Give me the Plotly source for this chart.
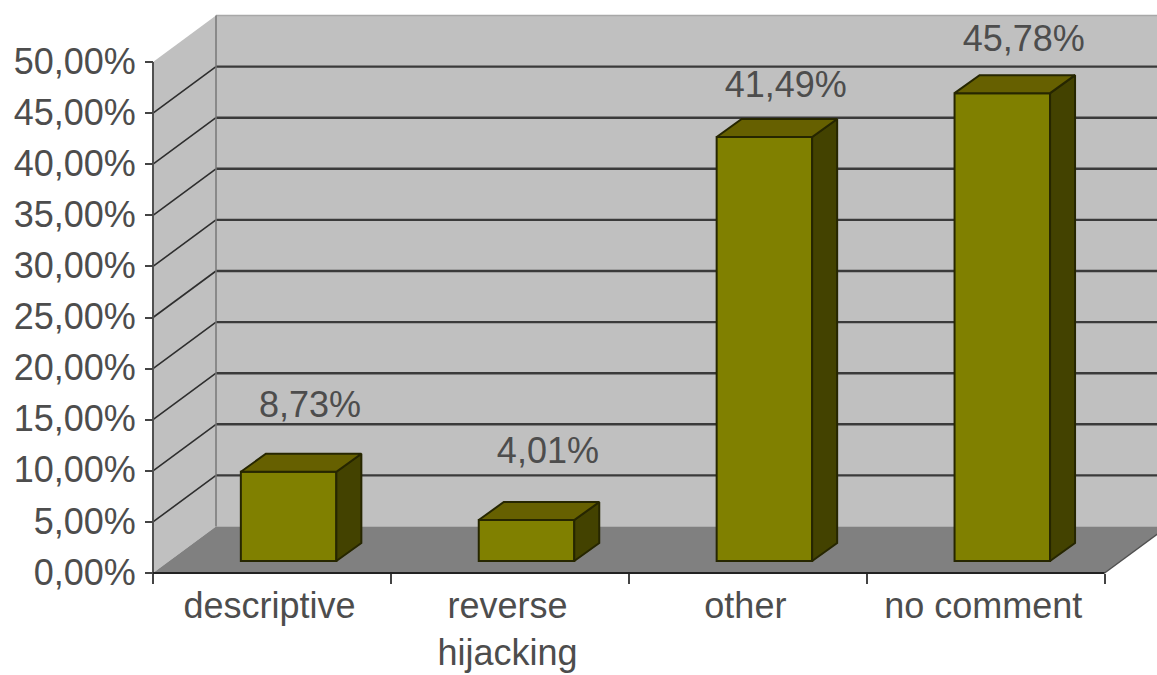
import plotly.graph_objects as go

# Chart data
categories = ["descriptive", "reverse<br>hijacking", "other", "no comment"]
shares = [8.73, 4.01, 41.49, 45.78]
share_labels = ["8,73%", "4,01%", "41,49%", "45,78%"]
y_ticks = [0, 5, 10, 15, 20, 25, 30, 35, 40, 45, 50]
y_tick_labels = ["0,00%", "5,00%", "10,00%", "15,00%", "20,00%", "25,00%",
                 "30,00%", "35,00%", "40,00%", "45,00%", "50,00%"]

# Canvas and the pseudo-3D box, expressed in axis units
W, H = 1157, 675
PX_PER_CAT = 237.9
PX_PER_PCT = 10.22
ORIGIN_X, ORIGIN_Y = 153, 573
X_RANGE = [-ORIGIN_X / PX_PER_CAT, (W - ORIGIN_X) / PX_PER_CAT]
Y_RANGE = [-(H - ORIGIN_Y) / PX_PER_PCT, ORIGIN_Y / PX_PER_PCT]
BOX_DX, BOX_DY = 63 / PX_PER_CAT, 46.5 / PX_PER_PCT
BAR_DX, BAR_DY = 25 / PX_PER_CAT, 18 / PX_PER_PCT
BAR_W = 95.5 / PX_PER_CAT
BAR_OFFSET = 0.57
BAR_BASE = 12 / PX_PER_PCT
LABEL_DX = 0.09
LABEL_LIFT = [6.2, 6.5, 4.8, 5.0]
CATEGORY_LABEL_X = 0.49

WALL, FLOOR = "#c0c0c0", "#808080"
FACE, TOP, SIDE = "#808000", "#666000", "#434200"
EDGE = "#262600"
TEXT = "#4d4d4d"
FONT = "Liberation Sans"
FONT_SIZE = 36
n = len(categories)


def poly(points, fill, line=None, width=0):
    path = "M " + " L ".join(f"{x} {y}" for x, y in points) + " Z"
    return dict(type="path", path=path, xref="x", yref="y", layer="below",
                fillcolor=fill, line=dict(color=line or fill, width=width))


def seg(x0, y0, x1, y1, color, width):
    return dict(type="line", x0=x0, y0=y0, x1=x1, y1=y1, xref="x", yref="y",
                layer="below", line=dict(color=color, width=width))


top = y_ticks[-1]
back_right = n + BOX_DX
shapes = [
    poly([(BOX_DX, BOX_DY), (back_right, BOX_DY), (back_right, top + BOX_DY), (BOX_DX, top + BOX_DY)], WALL),
    poly([(0, 0), (BOX_DX, BOX_DY), (BOX_DX, top + BOX_DY), (0, top)], WALL),
    poly([(0, 0), (n, 0), (back_right, BOX_DY), (BOX_DX, BOX_DY)], FLOOR),
]
for t in y_ticks[1:-1]:
    shapes.append(seg(BOX_DX, t + BOX_DY, back_right, t + BOX_DY, "#3a3a3a", 2.4))
    shapes.append(seg(0, t, BOX_DX, t + BOX_DY, "#2e2e2e", 1.6))
shapes += [
    seg(BOX_DX, top + BOX_DY, back_right, top + BOX_DY, "#a8a8a8", 1.5),
    seg(BOX_DX, BOX_DY, BOX_DX, top + BOX_DY, "#777777", 1.5),
    seg(0, 0, 0, top, "#505050", 2),
    seg(n, 0, back_right, BOX_DY, "#505050", 1.5),
    seg(0, 0, n, 0, "#222222", 2),
]

fig = go.Figure()

# Front faces of the columns
lefts = [i + BAR_OFFSET for i in range(n)]
fig.add_trace(go.Bar(
    x=lefts, y=shares, base=BAR_BASE, width=BAR_W,
    marker=dict(color=FACE, line=dict(color=EDGE, width=2)),
    hoverinfo="skip", xaxis="x", yaxis="y", showlegend=False,
))

# Side and top faces, projected back from each column's front face
for c, v in zip(lefts, shares):
    x0, x1 = c - BAR_W / 2, c + BAR_W / 2
    y0, y1 = BAR_BASE, BAR_BASE + v
    fig.add_trace(go.Scatter(
        x=[x1, x1 + BAR_DX, x1 + BAR_DX, x1, x1],
        y=[y0, y0 + BAR_DY, y1 + BAR_DY, y1, y0],
        mode="lines", fill="toself", fillcolor=SIDE,
        line=dict(color=EDGE, width=2), hoverinfo="skip", showlegend=False,
    ))
    fig.add_trace(go.Scatter(
        x=[x0, x0 + BAR_DX, x1 + BAR_DX, x1, x0],
        y=[y1, y1 + BAR_DY, y1 + BAR_DY, y1, y1],
        mode="lines", fill="toself", fillcolor=TOP,
        line=dict(color=EDGE, width=2), hoverinfo="skip", showlegend=False,
    ))

# Value labels above the columns
fig.add_trace(go.Scatter(
    x=[c + LABEL_DX for c in lefts],
    y=[BAR_BASE + v + lift for v, lift in zip(shares, LABEL_LIFT)],
    mode="text", text=share_labels, textposition="middle center",
    textfont=dict(family=FONT, size=FONT_SIZE, color=TEXT),
    hoverinfo="skip", showlegend=False,
))

# Invisible carrier so the label axis stays active
fig.add_trace(go.Scatter(
    x=[i + 0.5 for i in range(n)], y=[0] * n, mode="markers",
    marker=dict(opacity=0), xaxis="x2", yaxis="y",
    hoverinfo="skip", showlegend=False,
))

axis_position = (H - ORIGIN_Y) / H
fig.update_layout(
    width=W, height=H, autosize=False,
    margin=dict(l=0, r=0, t=0, b=0, pad=0, autoexpand=False),
    paper_bgcolor="white", plot_bgcolor="white",
    shapes=shapes,
    font=dict(family=FONT, size=FONT_SIZE, color=TEXT),
    xaxis=dict(
        domain=[0, 1], range=X_RANGE, anchor="free", position=axis_position,
        tickmode="array", tickvals=list(range(n + 1)), ticktext=[""] * (n + 1),
        ticks="outside", ticklen=10, tickwidth=2, tickcolor="#444444",
        showgrid=False, zeroline=False, showline=False, automargin=False,
    ),
    xaxis2=dict(
        domain=[0, 1], range=X_RANGE, overlaying="x", anchor="free", position=axis_position,
        side="bottom", tickmode="array", tickvals=[i + CATEGORY_LABEL_X for i in range(n)],
        ticktext=categories, ticks="outside", ticklen=1, tickcolor="rgba(0,0,0,0)",
        tickfont=dict(family=FONT, size=FONT_SIZE, color=TEXT),
        showgrid=False, zeroline=False, showline=False, automargin=False,
    ),
    yaxis=dict(
        domain=[0, 1], range=Y_RANGE, anchor="free", position=ORIGIN_X / W,
        tickmode="array", tickvals=y_ticks, ticktext=y_tick_labels,
        ticks="outside", ticklen=8, tickwidth=2, tickcolor="#444444",
        ticklabelstandoff=2, ticklabelshift=-1,
        tickfont=dict(family=FONT, size=FONT_SIZE, color=TEXT),
        showgrid=False, zeroline=False, showline=False, automargin=False,
    ),
)

fig.write_html("out.html", config={"displayModeBar": False})
